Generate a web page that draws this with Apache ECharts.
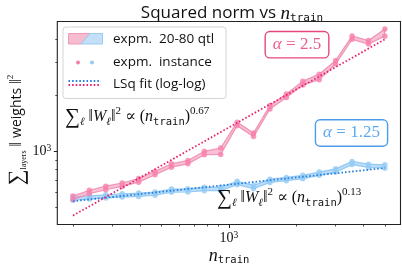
<!DOCTYPE html>
<html><head><meta charset="utf-8">
<script src="https://cdn.jsdelivr.net/npm/echarts@6/dist/echarts.min.js"></script>
<style>html,body{margin:0;padding:0;background:#fff}#c{width:402px;height:270px}</style>
</head><body><div id="c"></div>
<script>
// ---- data ----
const nTrain = [200, 236.9, 280.7, 332.5, 393.9, 466.6, 552.7, 654.8, 775.7, 918.9, 1088.5, 1289.5, 1527.6, 1809.6, 2143.7, 2539.5, 3008.4, 3563.9, 4221.8, 5000];
// alpha = 2.5 (pink): 20-80 quantile band
const pinkLo = [550, 592, 622, 648, 683, 748, 822, 856, 958, 962, 1372, 1198, 1686, 1940, 2268, 2420, 2935, 3980, 3757, 4140];
const pinkHi = [575, 618, 650, 676, 714, 780, 857, 893, 999, 1040, 1432, 1252, 1760, 2026, 2370, 2590, 3062, 4150, 3920, 4520];
// alpha = 1.25 (blue)
const blueLo = [546, 555, 562, 568, 573, 581, 603, 605, 615, 615, 662, 631, 681, 696, 713, 743, 773, 848, 819, 812];
const blueHi = [568, 577, 584, 592, 597, 605, 627, 629, 641, 641, 690, 657, 709, 724, 743, 773, 805, 882, 853, 846];
// least-squares fits (log-log), endpoints
const pinkFit = [[200, 452], [5000, 3981]];
const blueFit = [[200, 540], [5000, 813]];
const pinkExp = '0.67';
const blueExp = '0.13';
const pinkAlpha = '2.5';
const blueAlpha = '1.25';
// ticks
const xMajor = [1000];
const xMinor = [200, 300, 400, 500, 600, 700, 800, 900, 2000, 3000, 4000, 5000];
const yMajor = [1000];
const yMinor = [500, 600, 700, 800, 900, 2000, 3000, 4000];
const xRange = [170.2, 5875];
const yRange = [405, 4960];

// ---- style ----
const PINK_DOT = '#f77fac', PINK_BAND = 'rgba(242,150,183,0.6)', PINK_FIT = '#e8246e';
const BLUE_DOT = '#92caf5', BLUE_BAND = 'rgba(150,203,245,0.65)', BLUE_FIT = '#2a82e0';
const SERIF = "'Liberation Serif','DejaVu Serif',serif";
const SANS = "'Open Sans',Lato,sans-serif";
const MONO = "'DejaVu Sans Mono','Liberation Mono',monospace";
const AX = '#222';

const chart = echarts.init(document.getElementById('c'), null, {renderer: 'canvas'});

function band(lo, hi, fill, stroke) {
  return {
    type: 'custom', xAxisIndex: 0, yAxisIndex: 0, silent: true, z: 2,
    data: [[nTrain[0], lo[0]]],
    renderItem: function (params, api) {
      const pts = [];
      for (let i = 0; i < nTrain.length; i++) pts.push(api.coord([nTrain[i], hi[i]]));
      for (let i = nTrain.length - 1; i >= 0; i--) pts.push(api.coord([nTrain[i], lo[i]]));
      return {type: 'polygon', shape: {points: pts}, style: {fill: fill, stroke: stroke, lineWidth: 1.2}};
    }
  };
}
function pts(lo, hi) {
  const out = [];
  nTrain.forEach((x, i) => { out.push([x, lo[i]]); out.push([x, hi[i]]); });
  return out;
}
function scatter(data, color) {
  return {type: 'scatter', xAxisIndex: 0, yAxisIndex: 0, data: data, symbolSize: 5.5,
    itemStyle: {color: color}, z: 3, silent: true};
}
function fit(data, color) {
  return {type: 'line', xAxisIndex: 0, yAxisIndex: 0, data: data, symbol: 'none', z: 4, silent: true,
    lineStyle: {color: color, width: 1.8, type: [1.6, 2.0]}};
}

const mathRich = {
  sum: {fontFamily: SERIF, fontSize: 21, lineHeight: 22, fill: '#111'},
  m: {fontFamily: SERIF, fontSize: 16, lineHeight: 22, fill: '#111'},
  it: {fontFamily: SERIF, fontSize: 16, fontStyle: 'italic', lineHeight: 22, fill: '#111'},
  sub: {fontFamily: SERIF, fontSize: 11, fontStyle: 'italic', lineHeight: 10, verticalAlign: 'bottom', fill: '#111'},
  tt: {fontFamily: MONO, fontSize: 10.5, lineHeight: 10, verticalAlign: 'bottom', fill: '#111'},
  sup: {fontFamily: SERIF, fontSize: 11, lineHeight: 12, verticalAlign: 'top', fill: '#111'}
};
function law(exp) {
  return '{sum|∑}{sub|ℓ}{m| ‖}{it|W}{sub|ℓ}{m|‖}{sup|2}{m| ∝ (}{it|n}{tt|train}{m|)}{sup|' + exp + '}';
}

const option = {
  animation: false,
  backgroundColor: '#fff',
  title: {
    text: '{a|Squared norm vs }{n|n}{s|train}',
    left: 227, top: -2, textAlign: 'center',
    textStyle: {fontWeight: 'normal', rich: {
      a: {fontFamily: SANS, fontSize: 17, fontWeight: 'normal', color: '#111', lineHeight: 21},
      n: {fontFamily: SERIF, fontStyle: 'italic', fontWeight: 'normal', fontSize: 19, color: '#111', lineHeight: 21},
      s: {fontFamily: MONO, fontSize: 11, fontWeight: 'normal', color: '#111', lineHeight: 10, verticalAlign: 'bottom'}
    }}
  },
  grid: {left: 57.3, right: 1.5, top: 21.5, bottom: 45.5, show: true, borderColor: AX, borderWidth: 1.1, backgroundColor: 'transparent'},
  xAxis: [{
    type: 'log', min: xRange[0], max: xRange[1], position: 'bottom',
    axisLine: {show: false}, splitLine: {show: false},
    axisTick: {show: true, length: 3.5, customValues: xMajor, lineStyle: {color: AX, width: 1}},
    axisLabel: {customValues: xMajor, margin: 6, formatter: () => '{b|10}{s|3}',
      rich: {b: {fontFamily: SERIF, fontSize: 14, color: '#111', lineHeight: 16},
             s: {fontFamily: SERIF, fontSize: 9.5, color: '#111', lineHeight: 9, verticalAlign: 'top'}}}
  }, {
    type: 'log', min: xRange[0], max: xRange[1], position: 'bottom',
    axisLine: {show: false}, splitLine: {show: false}, axisLabel: {show: false},
    axisTick: {show: true, length: 2, customValues: xMinor, lineStyle: {color: AX, width: 0.8}}
  }],
  yAxis: [{
    type: 'log', min: yRange[0], max: yRange[1], position: 'left',
    axisLine: {show: false}, splitLine: {show: false},
    axisTick: {show: true, length: 3.5, customValues: yMajor, lineStyle: {color: AX, width: 1}},
    axisLabel: {customValues: yMajor, margin: 6, formatter: () => '{b|10}{s|3}',
      rich: {b: {fontFamily: SERIF, fontSize: 14, color: '#111', lineHeight: 16},
             s: {fontFamily: SERIF, fontSize: 9.5, color: '#111', lineHeight: 9, verticalAlign: 'top'}}}
  }, {
    type: 'log', min: yRange[0], max: yRange[1], position: 'left',
    axisLine: {show: false}, splitLine: {show: false}, axisLabel: {show: false},
    axisTick: {show: true, length: 2, customValues: yMinor, lineStyle: {color: AX, width: 0.8}}
  }],
  series: [
    band(blueLo, blueHi, BLUE_BAND, 'rgba(140,198,244,0.9)'),
    band(pinkLo, pinkHi, PINK_BAND, 'rgba(240,140,176,0.9)'),
    scatter(pts(blueLo, blueHi), BLUE_DOT),
    scatter(pts(pinkLo, pinkHi), PINK_DOT),
    fit(blueFit, BLUE_FIT),
    fit(pinkFit, PINK_FIT)
  ],
  graphic: [
    // legend
    {type: 'rect', shape: {x: 63, y: 27, width: 163, height: 71.5, r: 3},
      style: {fill: 'rgba(255,255,255,0.85)', stroke: '#d4d4d4', lineWidth: 1}, z: 10},
    {type: 'polygon', shape: {points: [[68.5, 33.5], [90, 33.5], [81, 44], [68.5, 44]]},
      style: {fill: '#f6bccf', stroke: '#f09ab8', lineWidth: 1}, z: 11},
    {type: 'polygon', shape: {points: [[90, 33.5], [102.5, 33.5], [102.5, 44], [81, 44]]},
      style: {fill: '#c3e0f8', stroke: '#9cccf1', lineWidth: 1}, z: 11},
    {type: 'circle', shape: {cx: 78, cy: 62.5, r: 2}, style: {fill: PINK_DOT}, z: 11},
    {type: 'circle', shape: {cx: 92, cy: 62.5, r: 2}, style: {fill: BLUE_DOT}, z: 11},
    {type: 'line', shape: {x1: 68.5, y1: 81, x2: 101, y2: 81},
      style: {stroke: BLUE_FIT, lineWidth: 1.8, lineDash: [1.6, 2.0]}, z: 11},
    {type: 'line', shape: {x1: 68.5, y1: 85, x2: 101, y2: 85},
      style: {stroke: PINK_FIT, lineWidth: 1.8, lineDash: [1.6, 2.0]}, z: 11},
    {type: 'text', x: 113, y: 39, z: 11, style: {text: 'expm.  20-80 qtl', font: '13.5px ' + SANS, fill: '#111', verticalAlign: 'middle'}},
    {type: 'text', x: 113, y: 62.5, z: 11, style: {text: 'expm.  instance', font: '13.5px ' + SANS, fill: '#111', verticalAlign: 'middle'}},
    {type: 'text', x: 113, y: 84, z: 11, style: {text: 'LSq fit (log-log)', font: '13.5px ' + SANS, fill: '#111', verticalAlign: 'middle'}},
    // alpha boxes
    {type: 'text', x: 297, y: 44.7, z: 12, style: {
      text: '{it|α}{m| = ' + pinkAlpha + '}', align: 'center', verticalAlign: 'middle',
      backgroundColor: '#fff', borderColor: '#e4477f', borderWidth: 1.4, borderRadius: 4, padding: [3, 7, 3, 7],
      rich: {it: {fontFamily: SERIF, fontStyle: 'italic', fontSize: 17, fill: '#ec5a90', lineHeight: 19},
             m: {fontFamily: SERIF, fontSize: 17, fill: '#ec5a90', lineHeight: 19}}}},
    {type: 'text', x: 351.5, y: 133, z: 12, style: {
      text: '{it|α}{m| = ' + blueAlpha + '}', align: 'center', verticalAlign: 'middle',
      backgroundColor: '#fff', borderColor: '#4b9ce6', borderWidth: 1.4, borderRadius: 4, padding: [3, 7, 3, 7],
      rich: {it: {fontFamily: SERIF, fontStyle: 'italic', fontSize: 17, fill: '#5ba8ef', lineHeight: 19},
             m: {fontFamily: SERIF, fontSize: 17, fill: '#5ba8ef', lineHeight: 19}}}},
    // power laws
    {type: 'text', x: 65, y: 117, z: 12, style: {text: law(pinkExp), verticalAlign: 'middle', rich: mathRich}},
    {type: 'text', x: 217, y: 198, z: 12, style: {text: law(blueExp), verticalAlign: 'middle', rich: mathRich}},
    // axis names
    {type: 'text', x: 229, y: 256, z: 12, style: {
      text: '{n|n}{s|train}', align: 'center', verticalAlign: 'middle',
      rich: {n: {fontFamily: SERIF, fontStyle: 'italic', fontSize: 18, fill: '#111', lineHeight: 20},
             s: {fontFamily: MONO, fontSize: 10.5, fill: '#111', lineHeight: 10, verticalAlign: 'bottom'}}}},
    {type: 'text', x: 17, y: 130, rotation: Math.PI / 2, z: 12, style: {
      text: '{sum|∑}{sub|layers}{m| ‖ }{w|weights}{m| ‖}{sup|2}', align: 'center', verticalAlign: 'middle',
      rich: {sum: {fontFamily: SERIF, fontSize: 22, fill: '#111', lineHeight: 22},
             sub: {fontFamily: SERIF, fontSize: 8, fill: '#111', lineHeight: 8, verticalAlign: 'bottom'},
             m: {fontFamily: SERIF, fontSize: 16, fill: '#111', lineHeight: 22},
             w: {fontFamily: SANS, fontSize: 14, fill: '#111', lineHeight: 22},
             sup: {fontFamily: SERIF, fontSize: 9, fill: '#111', lineHeight: 9, verticalAlign: 'top'}}}}
  ]
};
chart.setOption(option);
</script></body></html>
